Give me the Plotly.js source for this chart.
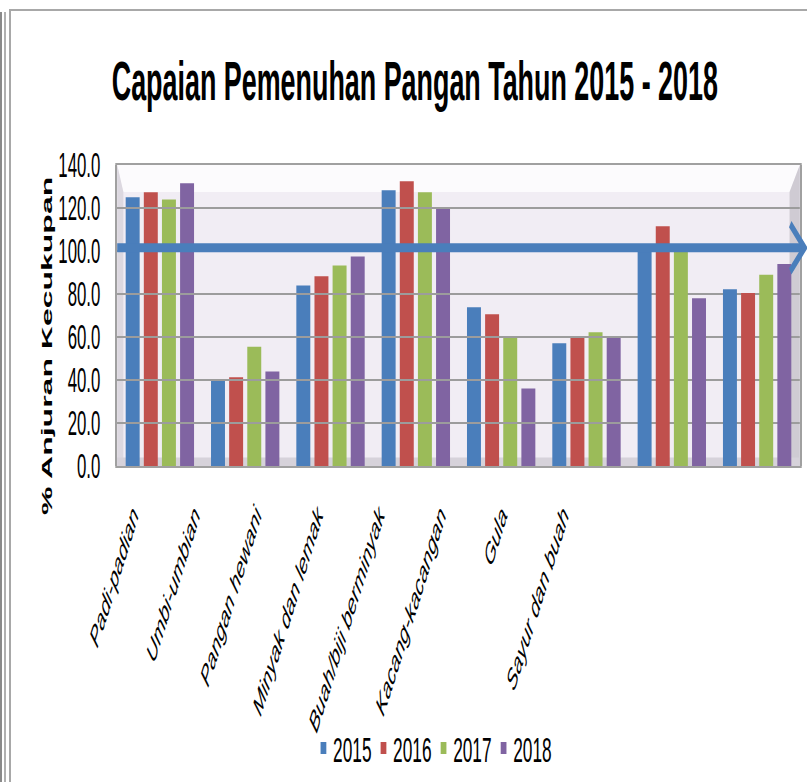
<!DOCTYPE html>
<html>
<head>
<meta charset="utf-8">
<script src="https://cdn.plot.ly/plotly-3.0.1.min.js"></script>
<style>
  html, body { margin:0; padding:0; background:#fff; }
  #wrap { position:absolute; left:0; top:0; width:807px; height:782px; overflow:hidden; background:#fff; }
  #plot { position:absolute; left:0; top:0; width:1680px; height:782px; transform:scaleX(0.48036); transform-origin:0 0; }
  .fr { position:absolute; }
</style>
</head>
<body>
<div id="wrap">
  <div id="plot"></div>
  <div class="fr" style="left:0;top:12px;width:2px;height:770px;background:#8a8a8a;"></div>
  <div class="fr" style="left:4px;top:12px;width:2px;height:770px;background:#b0b0b0;"></div>
  <div class="fr" style="left:9px;top:9px;width:2px;height:773px;background:#a8a8a8;"></div>
  <div class="fr" style="left:9px;top:9px;width:798px;height:2px;background:#a8a8a8;"></div>
</div>
<script>
const categories = ['Padi-padian','Umbi-umbian','Pangan hewani','Minyak dan lemak','Buah/biji berminyak','Kacang-kacangan','Gula','Sayur dan buah'];
const years = ['2015','2016','2017','2018'];
const v2015 = [125.0, 40.3, 83.9, 128.2, 73.8, 57.1, 102.0, 82.2];
const v2016 = [127.3, 41.3, 88.2, 132.4, 70.6, 59.9, 111.5, 80.5];
const v2017 = [124.0, 55.5, 93.2, 127.3, 59.9, 62.2, 100.5, 89.0];
const v2018 = [131.5, 43.9, 97.4, 120.1, 36.1, 59.9, 78.0, 94.0];
const targetLevel = 101.5;
const yTicks = [0, 20, 40, 60, 80, 100, 120, 140];

const colors = ['#4a7ebb', '#c0504d', '#9bbb59', '#8064a2'];
const series = [v2015, v2016, v2017, v2018];
const Y_MAX = 140;

const traces = series.map((vals, i) => ({
  type: 'bar', name: years[i], x: categories, y: vals,
  marker: { color: colors[i], line: { width: 0 } },
  xaxis: 'x', yaxis: 'y'
}));
// label-only axis carrying the category names
traces.push({
  type: 'scatter', mode: 'none', x: categories, y: v2015,
  xaxis: 'x2', yaxis: 'y', showlegend: false, hoverinfo: 'skip'
});

const yp = v => v / Y_MAX;  // value -> paper y

const layout = {
  width: 1680, height: 782,
  margin: { l: 243.6, r: 14.5, t: 165, b: 316, autoexpand: false },
  paper_bgcolor: 'rgba(0,0,0,0)',
  plot_bgcolor: 'rgba(0,0,0,0)',
  font: { family: 'Liberation Sans, Arial, sans-serif', color: '#000' },
  title: {
    text: 'Capaian Pemenuhan Pangan Tahun 2015 - 2018',
    font: { family: 'Liberation Sans, Arial, sans-serif', size: 56, weight: 'bold', color: '#000' },
    xref: 'container', x: 0.514, xanchor: 'center',
    yref: 'container', y: 0.897, yanchor: 'middle'
  },
  barmode: 'group', bargap: 0.15, bargroupgap: 0.23,
  showlegend: true,
  legend: {
    orientation: 'h', x: 0.464, xanchor: 'center', y: -0.937, yanchor: 'middle',
    font: { size: 36, family: 'Liberation Sans, Arial, sans-serif' },
    entrywidth: 80, entrywidthmode: 'pixels', bgcolor: 'rgba(0,0,0,0)'
  },
  xaxis: {
    type: 'category', range: [-0.5, 7.5], showticklabels: false, ticks: '',
    showline: true, mirror: true, linecolor: '#a0a0a0', linewidth: 2,
    showgrid: false, zeroline: false, fixedrange: true
  },
  xaxis2: {
    type: 'category', anchor: 'free', position: 0, domain: [0, 0.75],
    range: [-0.26, 8.07], showline: false, showgrid: false, zeroline: false, ticks: '',
    tickangle: -57, ticklabelstandoff: 25,
    tickfont: { size: 30, style: 'italic', family: 'Liberation Sans, Arial, sans-serif', color: '#000' },
    fixedrange: true
  },
  yaxis: {
    range: [0, Y_MAX], tickvals: yTicks, tickformat: '.1f',
    tickfont: { size: 35, family: 'Liberation Sans, Arial, sans-serif', color: '#000' },
    ticks: '', ticklabelstandoff: 24,
    showgrid: true, gridcolor: '#9c9c9c', gridwidth: 2,
    showline: true, mirror: true, linecolor: '#a0a0a0', linewidth: 4,
    zeroline: false, fixedrange: true
  },
  annotations: [{
    text: '% Anjuran Kecukupan', textangle: -90, showarrow: false,
    xref: 'paper', yref: 'paper', x: -0.104, y: 0.399, xanchor: 'center', yanchor: 'middle',
    font: { size: 32, weight: 'bold', family: 'Liberation Sans, Arial, sans-serif', color: '#000' }
  }],
  shapes: [
    // wall background
    { type: 'rect', xref: 'paper', yref: 'paper', layer: 'below',
      x0: 0, x1: 1, y0: 0, y1: 1, fillcolor: '#f1edf4', line: { width: 0 } },
    // top wall band
    { type: 'path', xref: 'paper', yref: 'paper', layer: 'below',
      path: `M 0 1 L 1 1 L 0.985 ${yp(127.4)} L 0.009 ${yp(127.4)} Z`,
      fillcolor: '#fcfbfd', line: { width: 0 } },
    // left wall edge
    { type: 'path', xref: 'paper', yref: 'paper', layer: 'below',
      path: `M 0 0 L 0.009 0 L 0.009 ${yp(127.4)} L 0 1 Z`,
      fillcolor: '#dcd8e0', line: { width: 0 } },
    // right wall edge
    { type: 'path', xref: 'paper', yref: 'paper', layer: 'below',
      path: `M 0.985 0 L 1 0 L 1 1 L 0.985 ${yp(127.4)} Z`,
      fillcolor: '#cfcbd3', line: { width: 0 } },
    // floor shading
    { type: 'rect', xref: 'paper', yref: 'paper', layer: 'below',
      x0: 0, x1: 1, y0: 0, y1: yp(4), fillcolor: '#d6d2da', line: { width: 0 } },
    // target arrow line
    { type: 'line', xref: 'paper', yref: 'paper', layer: 'above',
      x0: 0, x1: 1.006, y0: yp(targetLevel), y1: yp(targetLevel),
      line: { color: '#4a7ebb', width: 9 } },
    // arrow head
    { type: 'path', xref: 'paper', yref: 'paper', layer: 'above',
      path: `M 0.986 ${yp(targetLevel + 11)} L 1.007 ${yp(targetLevel)} L 0.986 ${yp(targetLevel - 11)}`,
      line: { color: '#4a7ebb', width: 8 } }
  ]
};

Plotly.newPlot('plot', traces, layout, { staticPlot: true, displayModeBar: false });
</script>
</body>
</html>
